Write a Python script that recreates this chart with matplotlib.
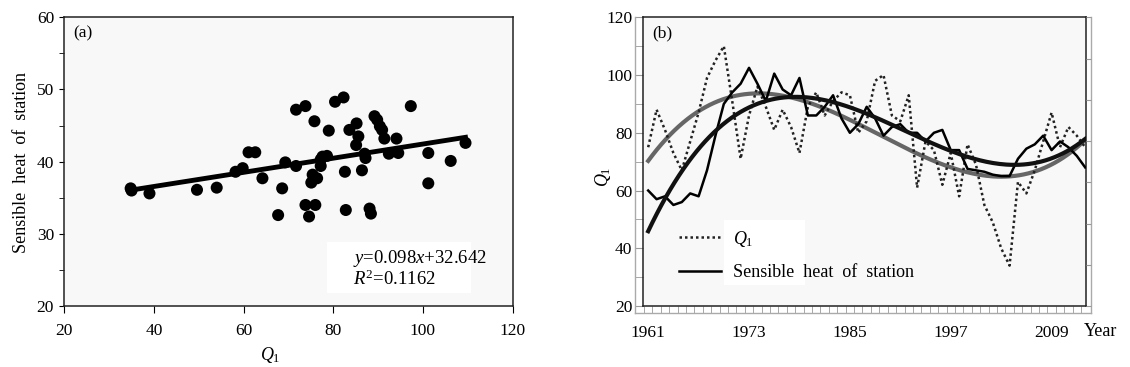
import matplotlib
matplotlib.use('Agg')
import matplotlib.pyplot as plt
import numpy as np
from matplotlib.patches import Rectangle

plt.rcParams['font.family'] = ['Liberation Serif', 'DejaVu Serif']
plt.rcParams['mathtext.fontset'] = 'custom'
plt.rcParams['mathtext.rm'] = 'Liberation Serif'
plt.rcParams['mathtext.it'] = 'Liberation Serif:italic'
plt.rcParams['font.size'] = 12.5

# (a) scatter: Q1 against sensible heat of station
q1_pts = [34.8, 35.0, 39.0, 49.6, 54.0, 58.2, 59.8, 61.1, 62.6, 64.2,
          67.7, 68.6, 69.3, 71.7, 71.7, 73.8, 73.8, 74.6, 75.1, 75.4,
          75.8, 76.0, 76.4, 77.2, 77.2, 77.6, 78.6, 79.0, 80.4, 82.3,
          82.6, 82.8, 83.6, 85.2, 85.1, 85.6, 86.4, 87.0, 87.2, 88.1,
          88.4, 89.2, 89.8, 90.4, 90.9, 91.4, 92.4, 94.1, 94.5, 97.3,
          101.2, 101.2, 106.2, 109.5]
sh_pts = [36.3, 36.0, 35.6, 36.1, 36.4, 38.6, 39.1, 41.3, 41.3, 37.7,
          32.6, 36.3, 39.9, 39.4, 47.2, 47.7, 34.0, 32.4, 37.1, 38.2,
          45.6, 34.0, 37.7, 40.3, 39.4, 40.7, 40.8, 44.3, 48.3, 48.9,
          38.6, 33.3, 44.4, 45.3, 42.3, 43.5, 38.8, 41.1, 40.5, 33.5,
          32.8, 46.3, 45.8, 44.9, 44.4, 43.2, 41.1, 43.2, 41.2, 47.7,
          41.2, 37.0, 40.1, 42.6]
slope = 0.098
intercept = 32.642
r2 = 0.1162

# (b) yearly series
years = np.arange(1961, 2014)
q1 = [75, 88, 81, 73, 67, 77, 87, 99, 105, 110,
      91, 71, 86, 96, 89, 81, 88, 82, 73, 89,
      94, 86, 91, 94, 93, 80, 84, 98, 100, 86,
      84, 93, 61, 77, 74, 62, 73, 58, 76, 69,
      55, 49, 40, 34, 63, 59, 67, 77, 87, 75,
      82, 79, 75]
sh = [60, 57, 58, 55, 56, 59, 58, 67, 79, 90,
      94, 97, 102.5, 97, 91, 100.5, 95, 93, 99, 86,
      86, 89, 93, 85, 80, 83, 89, 85, 79, 82,
      83, 80, 80, 77, 80, 81, 74, 74, 67.5, 67,
      66.5, 65.5, 65, 65, 71, 74.5, 76, 79, 74, 77,
      75, 72, 68]
label_years = [1961, 1973, 1985, 1997, 2009]

fig = plt.figure(figsize=(11.3, 3.67), dpi=100)
ax1 = fig.add_axes([0.0569, 0.1662, 0.3967, 0.7866])
ax2 = fig.add_axes([0.5693, 0.1662, 0.3918, 0.7866])

# ---- panel (a)
ax1.set_facecolor('#f8f8f8')
ax1.scatter(q1_pts, sh_pts, s=75, c='black', edgecolors='none', zorder=3)
fx = np.array([min(q1_pts), max(q1_pts)])
ax1.plot(fx, slope * fx + intercept, color='black', lw=3.5, zorder=4)
ax1.set_xlim(20, 120)
ax1.set_ylim(20, 60)
ax1.set_xticks(range(20, 121, 20))
ax1.set_yticks(range(20, 61, 10))
ax1.set_yticks(range(25, 60, 10), minor=True)
ax1.tick_params(axis='y', which='both', direction='out', length=3.4, pad=4)
ax1.tick_params(axis='x', direction='out', length=5, pad=7)
for s in ax1.spines.values():
    s.set_color('#222')
    s.set_linewidth(1.1)
ax1.add_patch(Rectangle((0.586, 0.045), 0.321, 0.177, transform=ax1.transAxes,
                        facecolor='white', edgecolor='none', zorder=1))
ax1.text(84.4, 26.65, '$y$=0.098$x$+32.642', fontsize=13.5, va='center', zorder=5)
ax1.text(84.4, 23.7, '$R^2$=%.4f' % r2, fontsize=13.5, va='center', zorder=5)
ax1.text(0.042, 0.945, '(a)', transform=ax1.transAxes, fontsize=12.5,
         ha='center', va='center')
ax1.set_ylabel('Sensible  heat  of  station', fontsize=13)
ax1.yaxis.set_label_coords(-0.077, 0.497)
ax1.set_xlabel('$Q_1$', fontsize=13)
ax1.xaxis.set_label_coords(0.46, -0.135)

# ---- panel (b)
ax2.set_facecolor('#f8f8f8')
ax2.add_patch(Rectangle((0.182, 0.073), 0.183, 0.225, transform=ax2.transAxes,
                        facecolor='white', edgecolor='none', zorder=0.5))
ax2.plot(years, q1, color='#222', ls=(0, (1, 1.2)), lw=1.8, label='$Q_1$', zorder=3)
ax2.plot(years, sh, color='black', lw=1.8, label='Sensible  heat  of  station', zorder=3)
tt = np.linspace(years[0], years[-1], 200)
pq = np.polyfit(years - 1961, q1, 3)
ps = np.polyfit(years - 1961, sh, 3)
ax2.plot(tt, np.polyval(pq, tt - 1961), color='#666666', lw=3, zorder=2)
ax2.plot(tt, np.polyval(ps, tt - 1961), color='#111111', lw=3, zorder=4)

ax2.set_xlim(1960.42, 2013.1)
ax2.set_ylim(20, 120)
ax2.set_yticks(range(20, 121, 20))
ax2.set_yticks(range(30, 120, 20), minor=True)
ax2.set_xticks(label_years)
ax2.set_xticks(np.arange(1960.5, 2013, 1), minor=True)
ax2.tick_params(axis='y', which='both', direction='out', length=6, color='#999999', pad=2)
ax2.tick_params(axis='x', which='major', length=0, pad=14)
ax2.tick_params(axis='x', which='minor', direction='out', length=5.3, color='#999999')
for s in ax2.spines.values():
    s.set_color('#222')
    s.set_linewidth(1.1)

# grey outer frame
gx0, gy0, gx1, gy1 = -0.0187, -0.0253, 1.0106, 1.002
for xs, ys in [([gx0, gx0], [gy0, gy1]), ([gx0, gx1], [gy0, gy0]), ([gx1, gx1], [gy0, gy1])]:
    ax2.plot(xs, ys, transform=ax2.transAxes, clip_on=False, color='#aaaaaa', lw=1)
tw = ax2.twinx()
tw.set_ylim(0, 7)
tw.set_yticks(range(8))
tw.tick_params(axis='y', direction='out', length=3.4, color='#999999', labelright=False)
for s in tw.spines.values():
    s.set_visible(False)

ax2.legend(loc='lower left', bbox_to_anchor=(0.081, 0.087), frameon=False,
           fontsize=13, handlelength=2.3, handletextpad=0.7, labelspacing=0.85,
           borderpad=0, borderaxespad=0)
ax2.text(0.042, 0.945, '(b)', transform=ax2.transAxes, fontsize=12.5,
         ha='center', va='center')
ax2.set_ylabel('$Q_1$', fontsize=13)
ax2.yaxis.set_label_coords(-0.068, 0.447)
ax2.text(1.032, -0.09, 'Year', transform=ax2.transAxes, fontsize=13,
         ha='center', va='center')

fig.savefig('out.png', dpi=100)
